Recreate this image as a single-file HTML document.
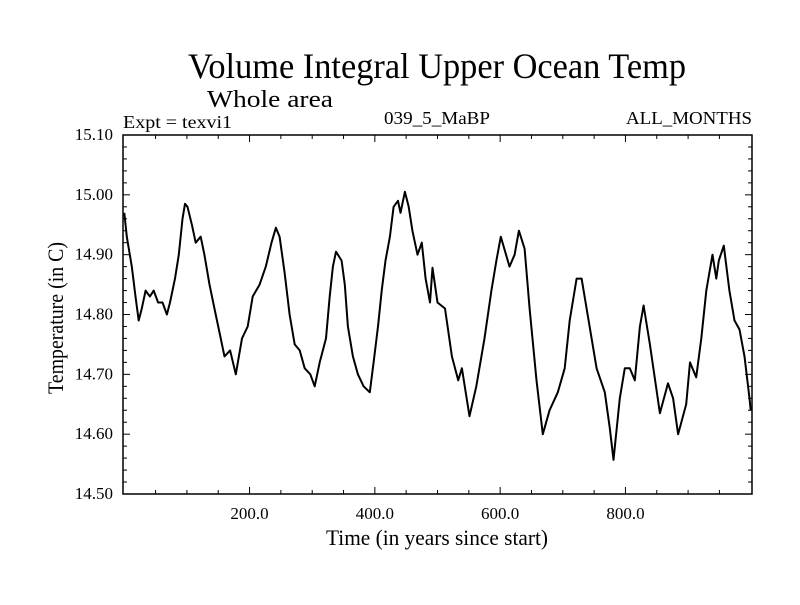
<!DOCTYPE html>
<html><head><meta charset="utf-8"><style>
body{margin:0;background:#fff}
svg text{font-family:"Liberation Serif",serif;fill:#000}
</style></head><body>
<svg id="chart" width="800" height="600" xmlns="http://www.w3.org/2000/svg">
<rect width="800" height="600" fill="#fff"/>
<text x="188" y="78" font-size="36" textLength="498" lengthAdjust="spacingAndGlyphs">Volume Integral Upper Ocean Temp</text>
<text x="207" y="107" font-size="24" textLength="126" lengthAdjust="spacingAndGlyphs">Whole area</text>
<text x="123" y="128" font-size="18" textLength="109" lengthAdjust="spacingAndGlyphs">Expt = texvi1</text>
<text x="384" y="124" font-size="18" textLength="106" lengthAdjust="spacingAndGlyphs">039_5_MaBP</text>
<text x="626" y="124" font-size="18" textLength="126" lengthAdjust="spacingAndGlyphs">ALL_MONTHS</text>
<text x="326" y="545" font-size="22" textLength="222" lengthAdjust="spacingAndGlyphs">Time (in years since start)</text>
<text transform="translate(63,394) rotate(-90)" font-size="22" textLength="152" lengthAdjust="spacingAndGlyphs">Temperature (in C)</text>
<g id="axes"></g>
<g id="series"></g>
</svg>
<script>
const years=[0,4,12,18,23,28,34,41,47,54,61,68,73,81,87,93,97,101,108,114,122,128,136,146,152,160,169,178,188,197,205,216,226,235,242,248,256,264,272,280,288,297,304,312,322,328,333,338,347,352,357,365,373,382,392,398,405,411,417,424,430,437,441,448,454,460,468,475,481,488,492,500,512,523,533,539,551,562,575,586,594,601,615,623,630,639,647,658,668,679,692,703,711,722,730,738,754,767,775,781,791,799,807,815,823,829,839,855,868,876,884,897,903,913,921,929,939,945,949,957,966,974,982,990,998,1000];
const temps=[14.97,14.93,14.88,14.83,14.79,14.81,14.84,14.83,14.84,14.82,14.82,14.80,14.82,14.86,14.90,14.96,14.985,14.98,14.95,14.92,14.93,14.90,14.85,14.80,14.77,14.73,14.74,14.70,14.76,14.78,14.83,14.85,14.88,14.92,14.945,14.93,14.87,14.80,14.75,14.74,14.71,14.70,14.68,14.72,14.76,14.83,14.88,14.905,14.89,14.85,14.78,14.73,14.70,14.68,14.67,14.72,14.78,14.84,14.89,14.93,14.98,14.99,14.97,15.005,14.98,14.94,14.90,14.92,14.86,14.82,14.878,14.82,14.81,14.73,14.69,14.71,14.63,14.68,14.76,14.84,14.89,14.93,14.88,14.90,14.94,14.91,14.81,14.69,14.60,14.64,14.67,14.71,14.79,14.86,14.86,14.81,14.71,14.67,14.61,14.557,14.66,14.71,14.71,14.69,14.78,14.815,14.75,14.635,14.685,14.66,14.60,14.65,14.72,14.695,14.76,14.84,14.90,14.86,14.89,14.915,14.84,14.79,14.775,14.73,14.66,14.64];
const xMajor=[200,400,600,800];
const xLabels=["200.0","400.0","600.0","800.0"];
const yMajor=[14.5,14.6,14.7,14.8,14.9,15.0,15.1];
const yLabels=["14.50","14.60","14.70","14.80","14.90","15.00","15.10"];
const L=123,R=752,T=135,B=494,X0=-2,X1=1002,Y0=14.5,Y1=15.1;
const sx=v=>L+(v-X0)/(X1-X0)*(R-L);
const sy=v=>B-(v-Y0)/(Y1-Y0)*(B-T);
const NS="http://www.w3.org/2000/svg";
const ax=document.getElementById('axes');
function mk(tag,attrs,parent){const e=document.createElementNS(NS,tag);for(const k in attrs)e.setAttribute(k,attrs[k]);parent.appendChild(e);return e;}
const frame=mk('rect',{x:L,y:T,width:R-L,height:B-T,fill:'none',stroke:'#000','stroke-width':1.5},ax);


for(let v=50;v<1000;v+=50){
  const major=v%200===0, len=major?7:4, x=sx(v);
  const t1=mk('line',{x1:x,x2:x,y1:B,y2:B-len,stroke:'#000'},ax);
  
  
  const t2=mk('line',{x1:x,x2:x,y1:T,y2:T+len,stroke:'#000'},ax);
  
  
}
xMajor.forEach((v,i)=>{
  const t=mk('text',{x:sx(v),y:519,'font-size':17,'text-anchor':'middle'},ax);t.textContent=xLabels[i];
  
  
});
for(let k=0;k<=30;k++){
  const v=14.5+k*0.02, major=k%5===0, len=major?7:4, y=sy(v);
  const t1=mk('line',{x1:L,x2:L+len,y1:y,y2:y,stroke:'#000'},ax);
  
  
  const t2=mk('line',{x1:R,x2:R-len,y1:y,y2:y,stroke:'#000'},ax);
  
  
}
yMajor.forEach((v,i)=>{
  const t=mk('text',{x:113,y:sy(v)+5,'font-size':17,'text-anchor':'end'},ax);t.textContent=yLabels[i];
  
  
});
const d=years.map((v,i)=>(i?'L':'M')+sx(v).toFixed(1)+','+sy(temps[i]).toFixed(1)).join('');
const p=mk('path',{d:d,fill:'none',stroke:'#000','stroke-width':2,'stroke-linejoin':'round'},document.getElementById('series'));


</script>
</body></html>
